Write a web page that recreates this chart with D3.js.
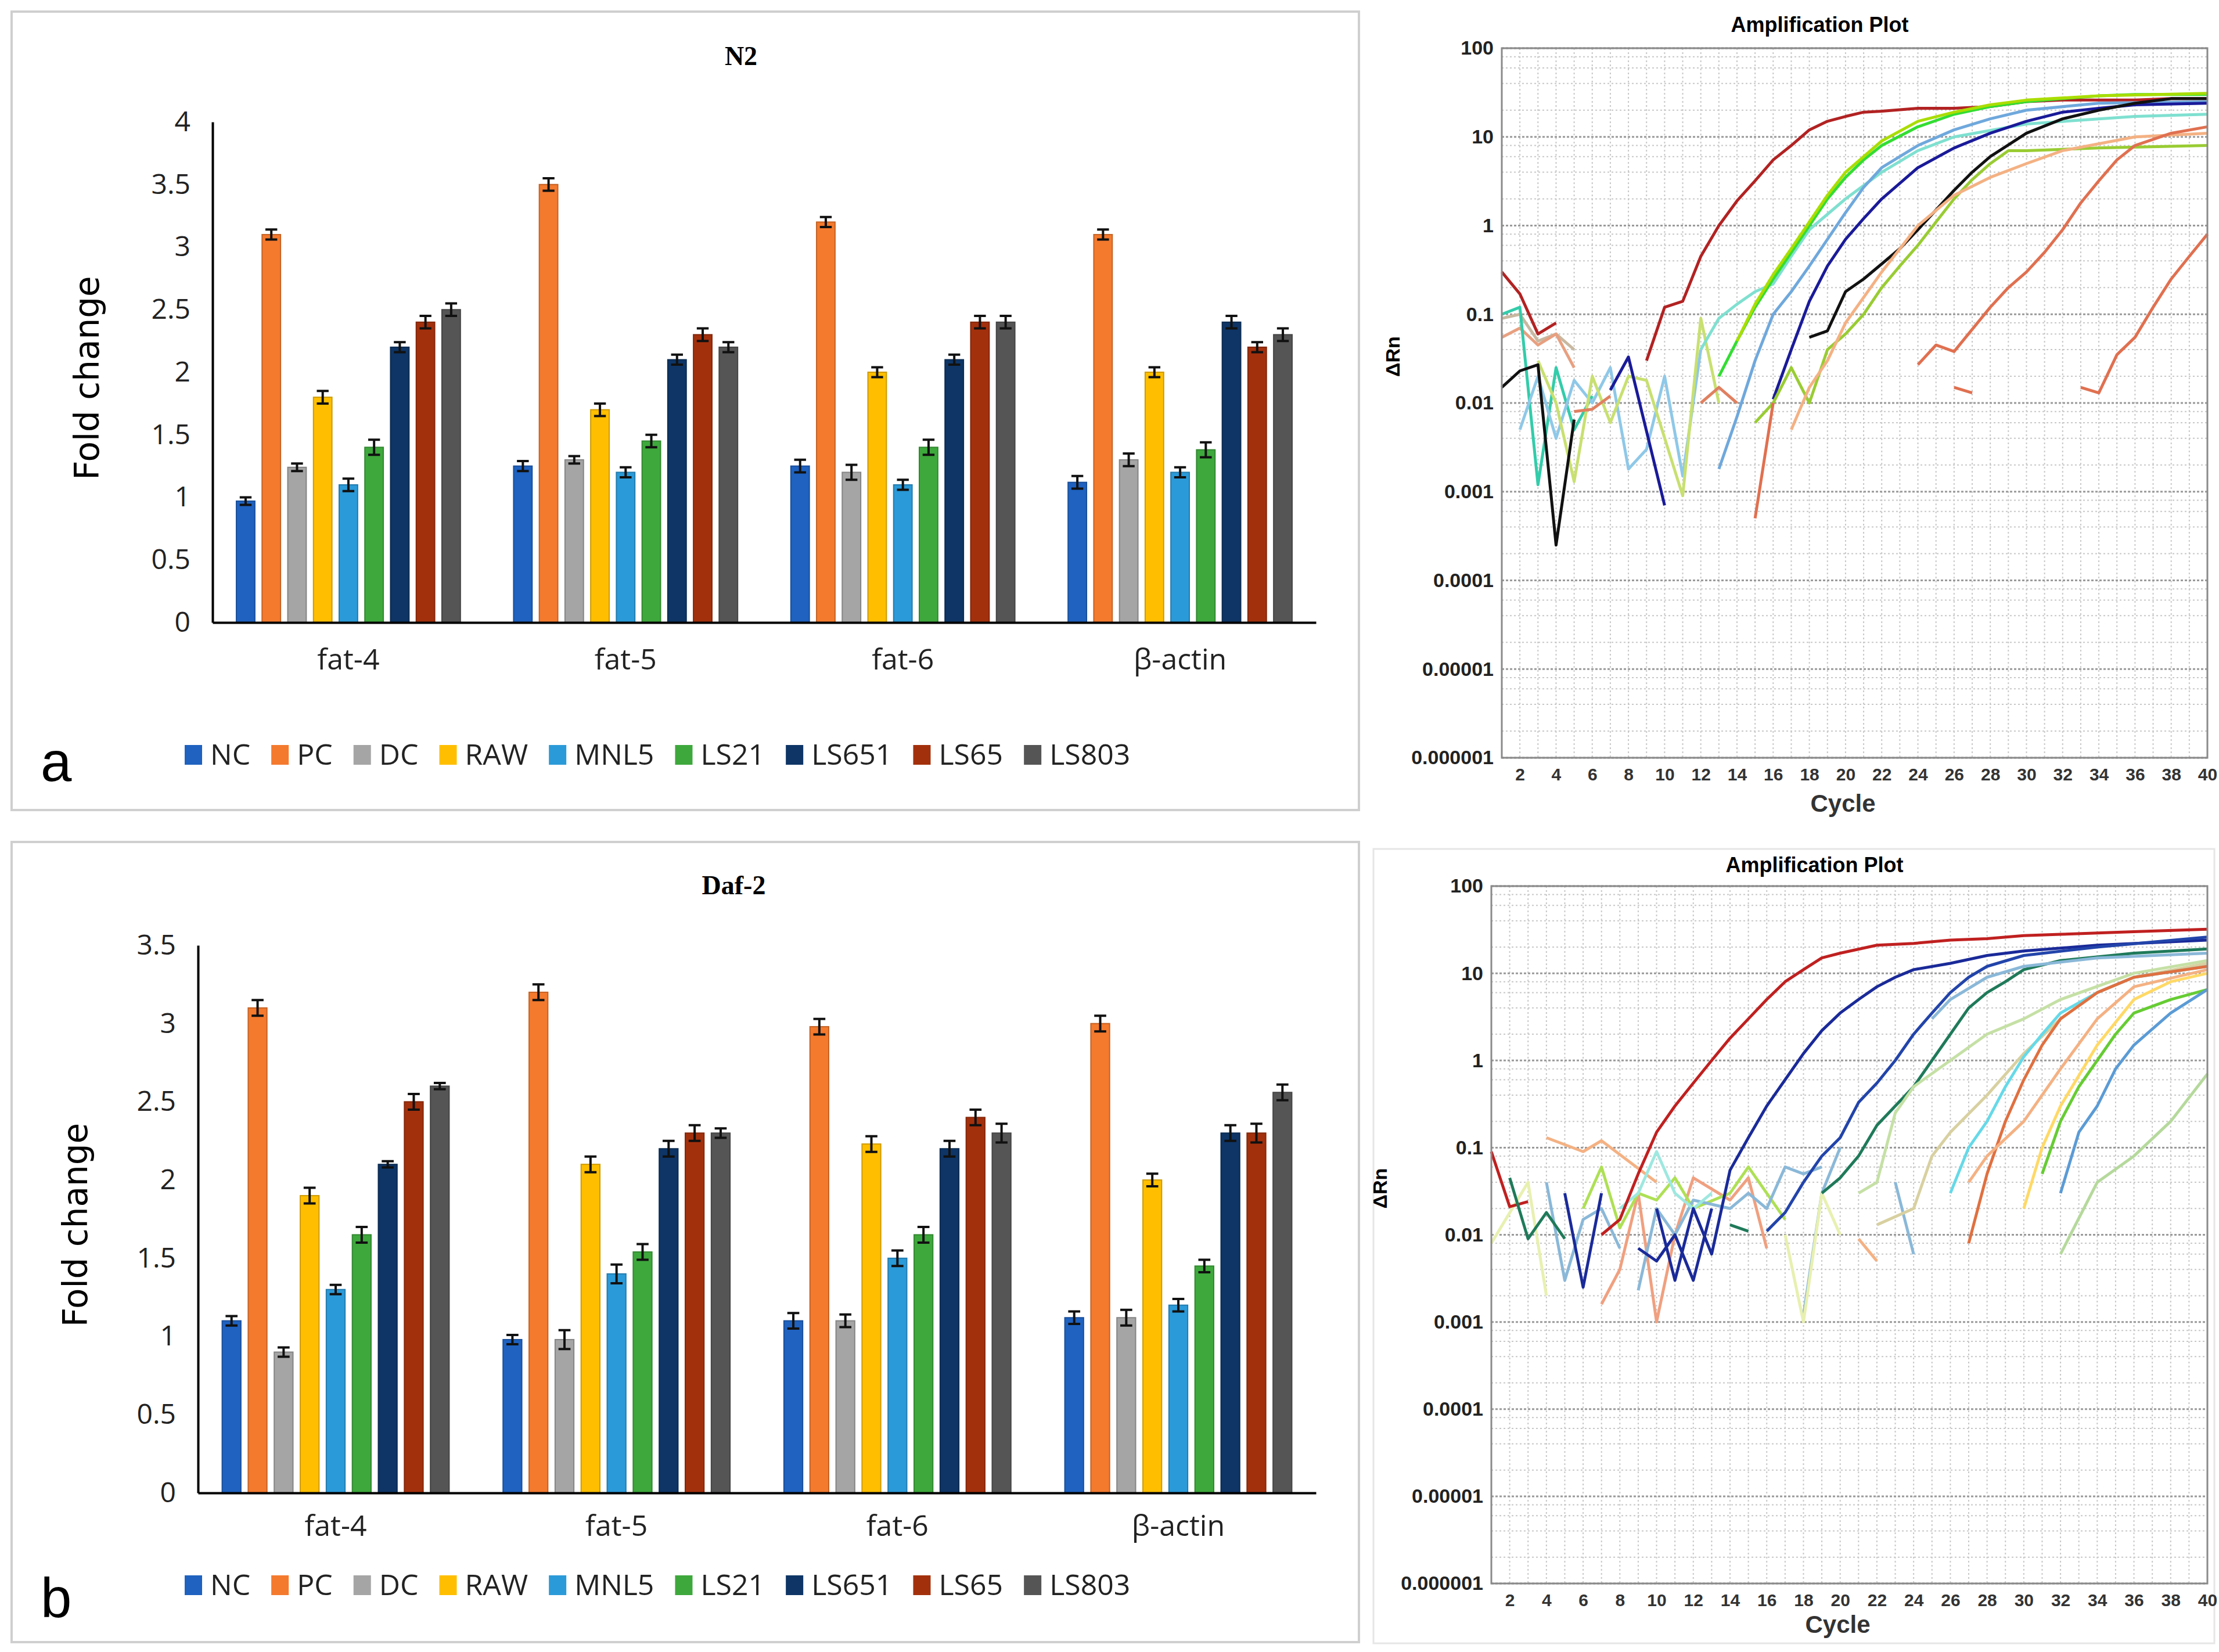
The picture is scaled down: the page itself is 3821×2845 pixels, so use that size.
<!DOCTYPE html>
<html>
<head>
<meta charset="utf-8">
<script src="https://cdn.jsdelivr.net/npm/d3@7"></script>
<style>
  body { margin: 0; background: #fff; }
  svg { display: block; }
</style>
</head>
<body>
<svg id="chart" width="3821" height="2845"></svg>
<script>
// Bar chart data
var genes = ['fat-4', 'fat-5', 'fat-6', 'β-actin'];
var groups = ['NC', 'PC', 'DC', 'RAW', 'MNL5', 'LS21', 'LS651', 'LS65', 'LS803'];
var groupColors = ['#1f62c0', '#f47a2e', '#a5a5a5', '#ffbf00', '#2b9ad8', '#3ea83c', '#0e3566', '#a3300c', '#555555'];

var n2Values = [
  [0.97, 3.1, 1.24, 1.8, 1.1, 1.4, 2.2, 2.4, 2.5],
  [1.25, 3.5, 1.3, 1.7, 1.2, 1.45, 2.1, 2.3, 2.2],
  [1.25, 3.2, 1.2, 2.0, 1.1, 1.4, 2.1, 2.4, 2.4],
  [1.12, 3.1, 1.3, 2.0, 1.2, 1.38, 2.4, 2.2, 2.3]
];
var n2Errors = [
  [0.03, 0.04, 0.03, 0.05, 0.05, 0.06, 0.04, 0.05, 0.05],
  [0.04, 0.05, 0.03, 0.05, 0.04, 0.05, 0.04, 0.05, 0.04],
  [0.05, 0.04, 0.06, 0.04, 0.04, 0.06, 0.04, 0.05, 0.05],
  [0.05, 0.04, 0.05, 0.04, 0.04, 0.06, 0.05, 0.04, 0.05]
];
var daf2Values = [
  [1.1, 3.1, 0.9, 1.9, 1.3, 1.65, 2.1, 2.5, 2.6],
  [0.98, 3.2, 0.98, 2.1, 1.4, 1.54, 2.2, 2.3, 2.3],
  [1.1, 2.98, 1.1, 2.23, 1.5, 1.65, 2.2, 2.4, 2.3],
  [1.12, 3.0, 1.12, 2.0, 1.2, 1.45, 2.3, 2.3, 2.56]
];
var daf2Errors = [
  [0.03, 0.05, 0.03, 0.05, 0.03, 0.05, 0.02, 0.05, 0.02],
  [0.03, 0.05, 0.06, 0.05, 0.06, 0.05, 0.05, 0.05, 0.03],
  [0.05, 0.05, 0.04, 0.05, 0.05, 0.05, 0.05, 0.05, 0.06],
  [0.04, 0.05, 0.05, 0.04, 0.04, 0.04, 0.05, 0.06, 0.05]
];

// Amplification plot curves: [cycle, deltaRn] points, null breaks segment
var ampTop = [
  { color: '#c8b8a0', pts: [[1,0.09],[2,0.1],[3,0.05],[4,0.06],[5,0.04]] },
  { color: '#e8a080', pts: [[1,0.055],[2,0.07],[3,0.045],[4,0.06],[5,0.025]] },
  { color: '#33ccaa', pts: [[1,0.1],[2,0.12],[3,0.0012],[4,0.025],[5,0.005],[6,0.012]] },
  { color: '#8fc8e8', pts: [[2,0.005],[3,0.02],[4,0.004],[5,0.018],[6,0.01],[7,0.025],[8,0.0018],[9,0.003],[10,0.02],[11,0.0015],[12,0.04]] },
  { color: '#c8e070', pts: [[3,0.03],[4,0.01],[5,0.0013],[6,0.02],[7,0.006],[8,0.02],[9,0.018],[11,0.0009],[12,0.09],[13,0.01]] },
  { color: '#e08060', pts: [[5,0.008],[6,0.0085],[7,0.012],null,[12,0.01],[13,0.015],[14,0.01]] },
  { color: '#b22222', pts: [[1,0.3],[2,0.17],[3,0.06],[4,0.08],null,[9,0.03],[10,0.12],[11,0.14],[12,0.45],[13,1],[14,1.9],[15,3.2],[16,5.5],[17,8],[18,12],[19,15],[20,17],[21,19],[22,19.5],[24,21],[26,21],[28,22],[30,25],[32,26],[34,26],[36,26],[38,27],[40,27]] },
  { color: '#7fe0d0', pts: [[12,0.04],[13,0.09],[14,0.13],[15,0.18],[16,0.22],[17,0.45],[18,0.9],[20,2],[22,4],[24,7],[26,10],[30,14],[36,17],[40,18]] },
  { color: '#33dd33', pts: [[13,0.02],[14,0.05],[15,0.12],[16,0.25],[17,0.5],[18,1.0],[19,2],[20,3.5],[21,5.5],[22,8],[24,13],[26,18],[28,22],[30,25],[32,27],[34,29],[36,30],[40,30]] },
  { color: '#aadd00', pts: [[14,0.05],[15,0.13],[16,0.28],[17,0.55],[18,1.1],[19,2.2],[20,4],[22,9],[24,15],[26,19],[28,23],[30,26],[34,29],[40,31]] },
  { color: '#6fa8dc', pts: [[13,0.0018],[14,0.007],[15,0.03],[16,0.1],[17,0.18],[18,0.35],[19,0.7],[20,1.4],[21,2.7],[22,4.5],[24,8],[26,12],[28,16],[30,20],[34,24],[40,25]] },
  { color: '#1a1a99', pts: [[7,0.014],[8,0.033],[10,0.0007],null,[16,0.011],[17,0.04],[18,0.14],[19,0.35],[20,0.7],[21,1.2],[22,2],[23,3],[24,4.5],[26,7.5],[28,11],[30,15],[32,19],[34,21],[36,23],[40,24]] },
  { color: '#111111', pts: [[1,0.015],[2,0.023],[3,0.027],[4,0.00025],[5,0.0065],null,[18,0.055],[19,0.065],[20,0.18],[21,0.25],[22,0.37],[23,0.55],[24,0.9],[25,1.5],[26,2.5],[27,4],[28,6],[30,11],[32,16],[34,20],[36,24],[38,27],[40,27]] },
  { color: '#99cc33', pts: [[15,0.006],[16,0.01],[17,0.025],[18,0.01],[19,0.04],[20,0.06],[21,0.1],[22,0.2],[23,0.35],[24,0.6],[25,1.1],[26,2],[27,3.3],[28,5],[29,7],[30,7],[34,7.5],[40,8]] },
  { color: '#f4b183', pts: [[17,0.005],[18,0.015],[19,0.03],[20,0.08],[22,0.3],[24,1],[26,2.2],[28,3.5],[30,5],[32,7],[36,10],[40,11]] },
  { color: '#e07050', pts: [[15,0.0005],[16,0.01],null,[24,0.027],[25,0.045],[26,0.038],[28,0.12],[29,0.2],[30,0.3],[31,0.5],[32,0.9],[33,1.8],[34,3.2],[35,5.5],[36,8],[38,11],[40,13],null,[26,0.015],[27,0.013]] },
  { color: '#e07050', pts: [[33,0.015],[34,0.013],[35,0.035],[36,0.055],[37,0.12],[38,0.25],[39,0.45],[40,0.8]] }
];

var ampBottom = [
  { color: '#f4b183', pts: [[4,0.13],[6,0.09],[7,0.12],[10,0.04]] },
  { color: '#f0a080', pts: [[7,0.0016],[8,0.004],[9,0.03],[10,0.001],[11,0.01],[12,0.045],[14,0.025],[15,0.045],[16,0.007]] },
  { color: '#aee055', pts: [[6,0.02],[7,0.06],[8,0.012],[9,0.03],[10,0.025],[11,0.045],[12,0.02],[14,0.03],[15,0.06],[16,0.03],[17,0.015]] },
  { color: '#8ab8d8', pts: [[4,0.04],[5,0.003],[6,0.015],[7,0.02],[8,0.007],null,[9,0.0023],[10,0.02],[11,0.01],[12,0.025],[14,0.02],[15,0.03],[16,0.02],[17,0.06],[18,0.05],[19,0.06]] },
  { color: '#9ee8e0', pts: [[8,0.02],[9,0.03],[10,0.09],[11,0.03],[12,0.02],[13,0.03]] },
  { color: '#8ab8d8', pts: [[18,0.0012],[19,0.03],[20,0.1]] },
  { color: '#e8f0b0', pts: [[1,0.008],[3,0.04],[4,0.002],null,[17,0.01],[18,0.001],[19,0.03],[20,0.01]] },
  { color: '#c02020', pts: [[1,0.09],[2,0.021],[3,0.024],null,[7,0.01],[8,0.015],[9,0.05],[10,0.15],[11,0.3],[12,0.55],[13,1],[14,1.8],[15,3],[16,5],[17,8],[18,11],[19,15],[20,17],[22,21],[24,22],[26,24],[28,25],[30,27],[32,28],[36,30],[40,32]] },
  { color: '#1a2a99', pts: [[5,0.03],[6,0.0025],[7,0.03],null,[9,0.007],[10,0.005],[11,0.01],[12,0.003],[13,0.02],null,[10,0.02],[11,0.003],[12,0.02],[13,0.006],[14,0.055],[15,0.13],[16,0.3],[17,0.6],[18,1.2],[19,2.2],[20,3.5],[21,5],[22,7],[23,9],[24,11],[26,13],[28,16],[30,18],[34,21],[40,24]] },
  { color: '#2244aa', pts: [[16,0.011],[17,0.018],[18,0.04],[19,0.08],[20,0.13],[21,0.33],[22,0.55],[23,1],[24,2],[25,3.5],[26,6],[27,9],[28,12],[30,16],[34,20],[40,26]] },
  { color: '#1f7a5a', pts: [[2,0.045],[3,0.009],[4,0.018],[5,0.009],null,[14,0.013],[15,0.011],null,[19,0.03],[20,0.045],[21,0.08],[22,0.18],[23,0.3],[24,0.5],[25,1],[26,2],[27,4],[28,6],[29,8],[30,11],[32,14],[36,17],[40,19]] },
  { color: '#8ab8d8', pts: [[23,0.04],[24,0.006],null,[25,3],[26,5],[28,9],[30,12],[34,15],[40,17]] },
  { color: '#c5e0a5', pts: [[21,0.03],[22,0.04],[23,0.25],[24,0.5],[26,1],[28,2],[30,3],[32,5],[36,10],[40,14]] },
  { color: '#d8d0a0', pts: [[22,0.013],[24,0.02],[25,0.08],[26,0.15],[28,0.4],[30,1.2],[32,3],[34,6],[36,9],[40,13]] },
  { color: '#66d9e8', pts: [[26,0.03],[27,0.1],[28,0.2],[29,0.5],[30,1.1],[31,2],[32,3.5],[34,6],[36,9],[40,12]] },
  { color: '#e07040', pts: [[27,0.008],[28,0.05],[29,0.2],[30,0.6],[31,1.5],[32,3],[34,6],[36,9],[40,12]] },
  { color: '#f4b183', pts: [[21,0.009],[22,0.005],null,[27,0.04],[28,0.08],[30,0.2],[32,0.8],[34,3],[36,7],[40,11]] },
  { color: '#ffd966', pts: [[30,0.02],[31,0.1],[32,0.3],[34,1.5],[36,5],[38,8],[40,10]] },
  { color: '#66cc33', pts: [[31,0.05],[32,0.2],[33,0.5],[34,1],[35,2],[36,3.5],[38,5],[40,6.5]] },
  { color: '#5b9bd5', pts: [[32,0.03],[33,0.15],[34,0.3],[35,0.8],[36,1.5],[38,3.5],[40,6.5]] },
  { color: '#b5d99c', pts: [[32,0.006],[34,0.04],[36,0.08],[38,0.2],[40,0.7]] }
];

var ampTicks = [1e-6, 1e-5, 1e-4, 1e-3, 1e-2, 1e-1, 1, 10, 100];
var ampTickLabels = ['0.000001', '0.00001', '0.0001', '0.001', '0.01', '0.1', '1', '10', '100'];

var svg = d3.select('#chart');

// panel frames
svg.append('rect').attr('x', 20).attr('y', 20).attr('width', 2320).attr('height', 1375)
  .attr('fill', 'none').attr('stroke', '#cfcfcf').attr('stroke-width', 4);
svg.append('rect').attr('x', 20).attr('y', 1450).attr('width', 2320).attr('height', 1378)
  .attr('fill', 'none').attr('stroke', '#cfcfcf').attr('stroke-width', 4);
svg.append('rect').attr('x', 2365).attr('y', 1462).attr('width', 1448).attr('height', 1368)
  .attr('fill', 'none').attr('stroke', '#e6e6e6').attr('stroke-width', 3);

function barChart(opt) {
  var g = svg.append('g');
  var x0 = d3.scaleBand().domain(genes).range([opt.left, opt.right]).paddingInner(0.14).paddingOuter(0.06);
  var x1 = d3.scaleBand().domain(groups).range([0, x0.bandwidth()]).padding(0.28);
  var y = d3.scaleLinear().domain([0, opt.max]).range([opt.bottom, opt.top]);

  var yAxis = g.append('g').attr('transform', 'translate(' + opt.left + ',0)')
    .call(d3.axisLeft(y).tickValues(d3.range(0, opt.max + 0.01, 0.5)).tickSize(0).tickPadding(38).tickFormat(d3.format('')));
  yAxis.select('.domain').attr('stroke', '#000').attr('stroke-width', 4);
  yAxis.selectAll('text').attr('font-family', 'Liberation Sans Narrow, Open Sans').attr('font-size', 48).attr('fill', '#222');

  genes.forEach(function(gene, gi) {
    var gg = g.append('g').attr('transform', 'translate(' + x0(gene) + ',0)');
    groups.forEach(function(grp, i) {
      var v = opt.values[gi][i], e = opt.errors[gi][i];
      var c = groupColors[i];
      gg.append('rect').attr('x', x1(grp)).attr('y', y(v)).attr('width', x1.bandwidth())
        .attr('height', y(0) - y(v)).attr('fill', c)
        .attr('stroke', d3.color(c).darker(0.6)).attr('stroke-width', 2);
      var cx = x1(grp) + x1.bandwidth() / 2, hw = x1.bandwidth() * 0.32;
      gg.append('path').attr('d',
        'M' + cx + ',' + y(v + e) + 'V' + y(v - e) +
        'M' + (cx - hw) + ',' + y(v + e) + 'H' + (cx + hw) +
        'M' + (cx - hw) + ',' + y(v - e) + 'H' + (cx + hw))
        .attr('stroke', '#111').attr('stroke-width', 4).attr('fill', 'none');
    });
  });

  var xAxis = g.append('g').attr('transform', 'translate(0,' + opt.bottom + ')')
    .call(d3.axisBottom(x0).tickSize(0).tickPadding(opt.catPad));
  xAxis.select('.domain').attr('stroke', '#000').attr('stroke-width', 4);
  xAxis.selectAll('text').attr('font-family', 'Liberation Sans Narrow, Open Sans').attr('font-size', 50).attr('fill', '#222');

  g.append('text').attr('x', (opt.left + opt.right) / 2 - 40).attr('y', opt.titleY)
    .attr('text-anchor', 'middle').attr('font-family', 'Liberation Serif').attr('font-weight', 'bold')
    .attr('font-size', 46).text(opt.title);
  g.append('text').attr('transform', 'translate(' + opt.labelX + ',' + ((opt.top + opt.bottom) / 2 + 10) + ') rotate(-90)')
    .attr('text-anchor', 'middle').attr('font-family', 'DejaVu Sans').attr('font-size', 58).text('Fold change');

  // legend
  var lx = 318;
  groups.forEach(function(grp, i) {
    g.append('rect').attr('x', lx).attr('y', opt.legendY - 17).attr('width', 30).attr('height', 34)
      .attr('fill', groupColors[i]);
    var t = g.append('text').attr('x', lx + 44).attr('y', opt.legendY + 17)
      .attr('font-family', 'Liberation Sans Narrow, Open Sans').attr('font-size', 50).attr('fill', '#222').text(grp);
    lx += 44 + t.node().getComputedTextLength() + 36;
  });
  g.append('text').attr('x', 70).attr('y', opt.letterY).attr('font-family', 'Liberation Sans')
    .attr('font-size', 96).text(opt.letter);
}

barChart({ values: n2Values, errors: n2Errors, max: 4, left: 366, right: 2266, top: 210, bottom: 1072,
  title: 'N2', titleY: 112, labelX: 170, catPad: 45, legendY: 1300, letter: 'a', letterY: 1345 });
barChart({ values: daf2Values, errors: daf2Errors, max: 3.5, left: 341, right: 2266, top: 1628, bottom: 2571,
  title: 'Daf-2', titleY: 1540, labelX: 150, catPad: 38, legendY: 2730, letter: 'b', letterY: 2785 });

function ampPlot(opt) {
  var g = svg.append('g');
  var x = d3.scaleLinear().domain([1, 40]).range([opt.left, opt.right]);
  var y = d3.scaleLog().domain([1e-6, 100]).range([opt.bottom, opt.top]);

  g.append('rect').attr('x', opt.left).attr('y', opt.top).attr('width', opt.right - opt.left)
    .attr('height', opt.bottom - opt.top).attr('fill', '#fff');
  // minor grid
  var minor = [];
  ampTicks.slice(0, -1).forEach(function(t) { for (var k = 2; k < 10; k += 2) minor.push(t * k); });
  g.selectAll(null).data(minor).enter().append('line')
    .attr('x1', opt.left).attr('x2', opt.right).attr('y1', function(d) { return y(d); }).attr('y2', function(d) { return y(d); })
    .attr('stroke', '#c8c8c8').attr('stroke-width', 2).attr('stroke-dasharray', '3,4');
  g.selectAll(null).data(d3.range(2, 41)).enter().append('line')
    .attr('y1', opt.top).attr('y2', opt.bottom).attr('x1', function(d) { return x(d); }).attr('x2', function(d) { return x(d); })
    .attr('stroke', '#c8c8c8').attr('stroke-width', 2).attr('stroke-dasharray', '3,4');
  g.selectAll(null).data(ampTicks).enter().append('line')
    .attr('x1', opt.left).attr('x2', opt.right).attr('y1', function(d) { return y(d); }).attr('y2', function(d) { return y(d); })
    .attr('stroke', '#9a9a9a').attr('stroke-width', 3).attr('stroke-dasharray', '4,3');

  var line = d3.line().defined(function(d) { return d !== null; })
    .x(function(d) { return x(d[0]); }).y(function(d) { return y(d[1]); });
  opt.curves.forEach(function(c) {
    g.append('path').attr('d', line(c.pts)).attr('fill', 'none').attr('stroke', c.color)
      .attr('stroke-width', 5).attr('stroke-linejoin', 'round');
  });

  g.append('rect').attr('x', opt.left).attr('y', opt.top).attr('width', opt.right - opt.left)
    .attr('height', opt.bottom - opt.top).attr('fill', 'none').attr('stroke', '#8a8a8a').attr('stroke-width', 3);

  var ya = g.append('g').attr('transform', 'translate(' + opt.left + ',0)')
    .call(d3.axisLeft(y).tickValues(ampTicks).tickSize(0).tickPadding(14)
      .tickFormat(function(d, i) { return ampTickLabels[i]; }));
  ya.select('.domain').remove();
  ya.selectAll('text').attr('font-family', 'Liberation Sans Narrow, Liberation Sans').attr('font-weight', 'bold').attr('font-size', 34).attr('fill', '#222');

  var xa = g.append('g').attr('transform', 'translate(0,' + opt.bottom + ')')
    .call(d3.axisBottom(x).tickValues(d3.range(2, 41, 2)).tickSize(0).tickPadding(18).tickFormat(d3.format('d')));
  xa.select('.domain').remove();
  xa.selectAll('text').attr('font-family', 'Liberation Sans Narrow, Liberation Sans').attr('font-weight', 'bold').attr('font-size', 30).attr('fill', '#333');

  g.append('text').attr('x', (opt.left + opt.right) / 2 - 60).attr('y', opt.titleY).attr('text-anchor', 'middle')
    .attr('font-family', 'Liberation Sans Narrow, Liberation Sans').attr('font-weight', 'bold').attr('font-size', 36).text('Amplification Plot');
  g.append('text').attr('x', (opt.left + opt.right) / 2 - 20).attr('y', opt.cycleY).attr('text-anchor', 'middle')
    .attr('font-family', 'Liberation Sans Narrow, Liberation Sans').attr('font-weight', 'bold').attr('font-size', 42).attr('fill', '#333').text('Cycle');
  g.append('text').attr('transform', 'translate(' + opt.rnX + ',' + ((opt.top + opt.bottom) / 2 - 80) + ') rotate(-90)')
    .attr('text-anchor', 'middle').attr('font-family', 'Liberation Sans').attr('font-weight', 'bold').attr('font-size', 34).text('ΔRn');
}

ampPlot({ curves: ampTop, left: 2586, right: 3801, top: 83, bottom: 1305, titleY: 55, cycleY: 1398, rnX: 2410 });
ampPlot({ curves: ampBottom, left: 2568, right: 3801, top: 1526, bottom: 2727, titleY: 1502, cycleY: 2812, rnX: 2388 });
</script>
</body>
</html>
